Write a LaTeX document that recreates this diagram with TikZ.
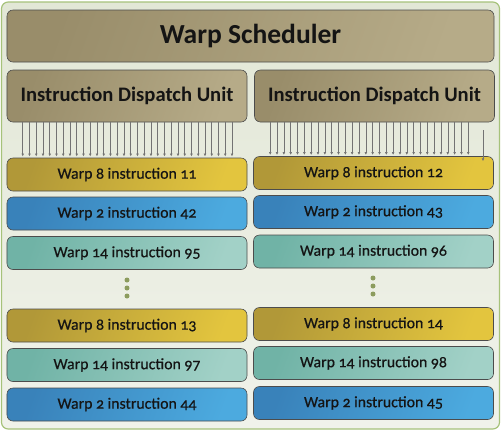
\documentclass[tikz,border=0pt]{standalone}
\usepackage{fontspec}
\setmainfont{Carlito}[Numbers=OldStyle]
\newfontfamily\rowfont{Carlito}[Numbers=OldStyle, FakeBold=0.6]
\usetikzlibrary{arrows.meta}

\definecolor{tanA}{HTML}{998D6A}
\definecolor{tanB}{HTML}{B6AB88}
\definecolor{goldA}{HTML}{B19838}
\definecolor{goldB}{HTML}{E3C53E}
\definecolor{bluA}{HTML}{3982BA}
\definecolor{bluB}{HTML}{4CAADF}
\definecolor{tealA}{HTML}{70B3A6}
\definecolor{tealB}{HTML}{A2D1C7}
\definecolor{paneA}{HTML}{E2E7D6}
\definecolor{paneB}{HTML}{F0F2EA}
\definecolor{paneline}{HTML}{A6C27A}
\definecolor{dotgreen}{HTML}{8C9C5E}

\begin{document}
\begin{tikzpicture}[x=0.3mm, y=-0.3mm,
  unit/.style={rectangle, rounded corners=1.8mm, draw=black!70, line width=0.5pt,
    text=black!92, align=center},
  sched/.style={unit, left color=tanA, right color=tanB, shading angle=70,
    minimum width=14.61cm, minimum height=1.56cm,
    font=\fontsize{23.5}{28}\selectfont\bfseries},
  idu/.style={unit, left color=tanA, right color=tanB, shading angle=70,
    minimum width=7.2cm, minimum height=1.56cm,
    font=\fontsize{17.6}{21}\selectfont\bfseries},
  instr/.style={unit, minimum width=7.2cm, minimum height=0.99cm,
    font=\fontsize{13.5}{16}\rowfont},
  w8/.style={instr, left color=goldA, right color=goldB, shading angle=70},
  w2/.style={instr, left color=bluA, right color=bluB, shading angle=70},
  w14/.style={instr, left color=tealA, right color=tealB, shading angle=70},
  tick/.style={draw=black!55, line width=0.45pt,
    -{Latex[length=2.4pt,width=2.4pt]}},
  vdot/.style={circle, fill=dotgreen, inner sep=0pt, minimum size=1.5mm},
]
\useasboundingbox (0,0) rectangle (503,431);

% Background pane
\draw[draw=paneline, line width=1pt, rounded corners=2mm,
  top color=paneA, bottom color=paneB] (1.5,2) rectangle (499.5,429);

% Scheduler and dispatch units
\node[sched] (sched) at (250.5,36) {Warp Scheduler};
\node[idu] (idul) at (127,96) {Instruction Dispatch Unit};
\node[idu] (idur) at (374.5,96) {Instruction Dispatch Unit};

% Left column
\node[w8]  (l1) at (127,174.5) {Warp 8 instruction 11};
\node[w2]  (l2) at (127,213.5) {Warp 2 instruction 42};
\node[w14] (l3) at (127,253)   {Warp 14 instruction 95};
\node[w8]  (l4) at (127,325.5) {Warp 8 instruction 13};
\node[w14] (l5) at (127,365)   {Warp 14 instruction 97};
\node[w2]  (l6) at (127,404.5) {Warp 2 instruction 44};

% Right column
\node[w8]  (r1) at (373.5,173) {Warp 8 instruction 12};
\node[w2]  (r2) at (373.5,212) {Warp 2 instruction 43};
\node[w14] (r3) at (373.5,251.5) {Warp 14 instruction 96};
\node[w8]  (r4) at (373.5,324) {Warp 8 instruction 14};
\node[w14] (r5) at (373.5,363) {Warp 14 instruction 98};
\node[w2]  (r6) at (373.5,403) {Warp 2 instruction 45};

% Ellipses
\node[vdot] (ld1) at (127,280) {};
\node[vdot] (ld2) at (127,288) {};
\node[vdot] (ld3) at (127,296) {};
\node[vdot] (rd1) at (373,278) {};
\node[vdot] (rd2) at (373,286) {};
\node[vdot] (rd3) at (373,294) {};

% Dispatch lanes
\foreach \i in {0,...,31}
  \draw[tick] ([xshift=16*0.3mm+\i*6.75*0.3mm]idul.south west)
    -- ([xshift=16*0.3mm+\i*6.75*0.3mm, yshift=0.4mm]idul.south west |- l1.north);
\foreach \i in {0,...,29}
  \draw[tick] ([xshift=16*0.3mm+\i*6.83*0.3mm]idur.south west)
    -- ([xshift=16*0.3mm+\i*6.83*0.3mm, yshift=0.4mm]idur.south west |- r1.north);
\coordinate (stray) at (483,130);
\draw[tick] (stray) -- ([yshift=-1.5mm]stray |- r1.north);

\end{tikzpicture}
\end{document}
